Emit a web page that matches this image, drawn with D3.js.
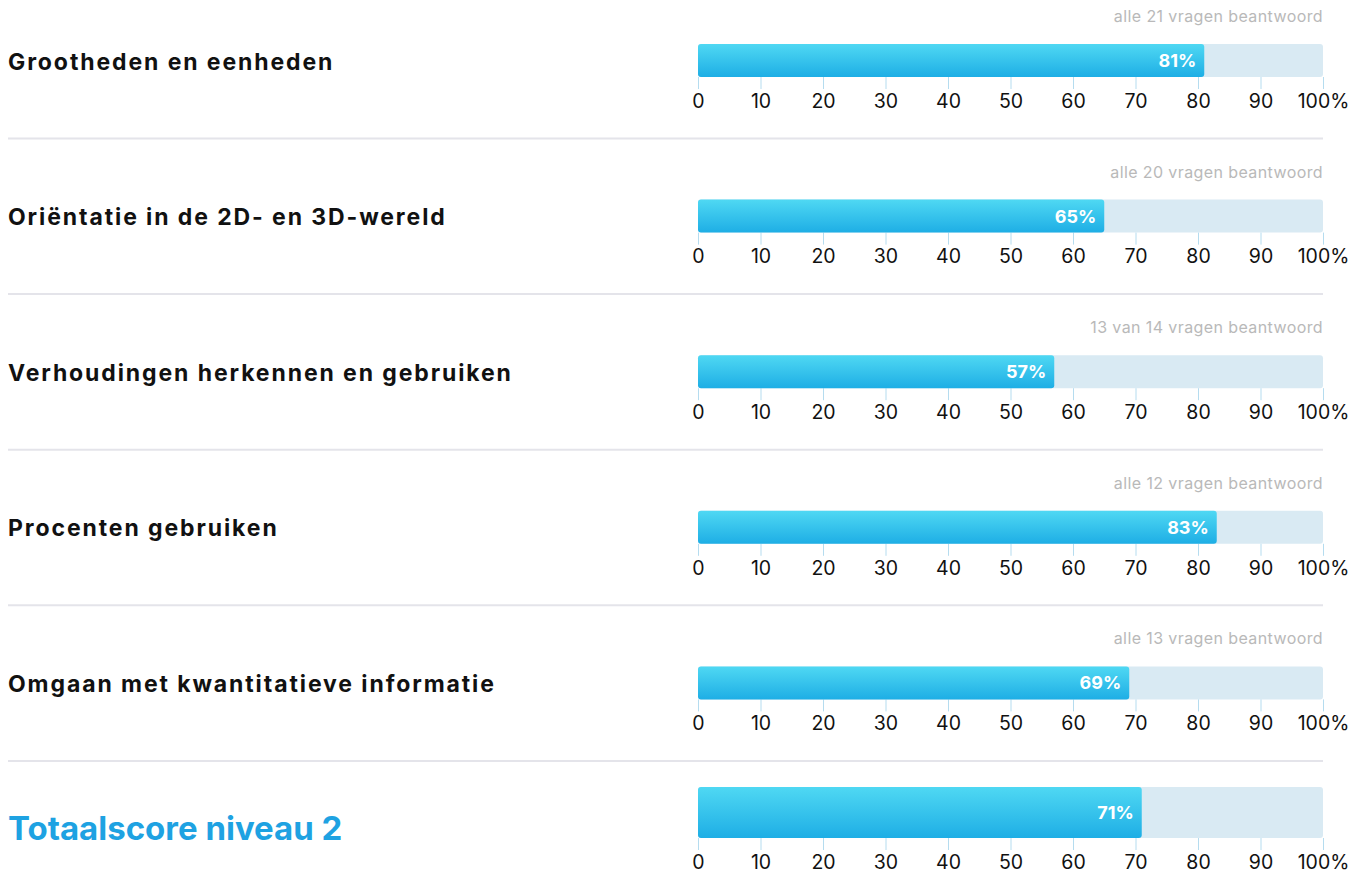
<!DOCTYPE html>
<html>
<head>
<meta charset="utf-8">
<title>Resultaten per domein</title>
<style>
  html, body { margin: 0; padding: 0; background: #fff; }
  svg { display: block; font-family: "Inter", "Noto Sans", sans-serif; }
</style>
<script src="https://d3js.org/d3.v7.min.js"></script>
</head>
<body>
<svg id="chart"></svg>
<script>
const categories = [
  "Grootheden en eenheden",
  "Oriëntatie in de 2D- en 3D-wereld",
  "Verhoudingen herkennen en gebruiken",
  "Procenten gebruiken",
  "Omgaan met kwantitatieve informatie"
];
const scores = [81, 65, 57, 83, 69];
const answered = [
  "alle 21 vragen beantwoord",
  "alle 20 vragen beantwoord",
  "13 van 14 vragen beantwoord",
  "alle 12 vragen beantwoord",
  "alle 13 vragen beantwoord"
];
const totalLabel = "Totaalscore niveau 2";
const totalScore = 71;
const tickValues = [0, 10, 20, 30, 40, 50, 60, 70, 80, 90, 100];

const width = 1363, height = 893;
const svg = d3.select("#chart").attr("width", width).attr("height", height);

const defs = svg.append("defs");
const grad = defs.append("linearGradient").attr("id", "barGrad")
  .attr("x1", 0).attr("y1", 0).attr("x2", 0).attr("y2", 1);
grad.append("stop").attr("offset", "0%").attr("stop-color", "#4fd8f3");
grad.append("stop").attr("offset", "100%").attr("stop-color", "#1eaee5");

const x = d3.scaleLinear().domain([0, 100]).range([698, 1323]);
const y = d3.scaleBand().domain(categories).range([0, 155.6 * categories.length]);

function drawRow(g, label, value, barY, barH, isTotal) {
  // achtergrond
  g.append("rect")
    .attr("x", x(0)).attr("y", barY)
    .attr("width", x(100) - x(0)).attr("height", barH)
    .attr("rx", 3).attr("fill", "#d9eaf3");
  // ticks
  const axis = d3.axisBottom(x).tickValues(tickValues)
    .tickSize(12).tickPadding(5)
    .tickFormat(d => d === 100 ? "100%" : d);
  const ax = g.append("g").attr("transform", "translate(0," + (barY + barH) + ")").call(axis);
  ax.select(".domain").remove();
  ax.selectAll(".tick line").attr("stroke", "#b5dcef");
  ax.selectAll(".tick text")
    .attr("font-size", "19.5px").attr("fill", "#111")
    .attr("font-family", "Inter, sans-serif");
  // balk
  g.append("rect")
    .attr("x", x(0)).attr("y", barY)
    .attr("width", x(value) - x(0)).attr("height", barH)
    .attr("rx", 3).attr("fill", "url(#barGrad)");
  g.append("text")
    .attr("x", x(value) - 8).attr("y", barY + barH / 2)
    .attr("dy", "0.36em").attr("text-anchor", "end")
    .attr("font-size", "18px").attr("font-weight", 700).attr("fill", "#fff")
    .text(value + "%");
  // label
  if (isTotal) {
    g.append("text")
      .attr("x", 8).attr("y", barY + barH + 2)
      .attr("font-size", "33px")
      .attr("font-weight", 700)
      .attr("fill", "#1ea2e2")
      .text(label);
  } else {
    g.append("text")
      .attr("x", 8).attr("y", barY + barH / 2 + 1)
      .attr("dy", "0.35em")
      .attr("font-size", "23px")
      .attr("letter-spacing", "1.9px")
      .attr("font-weight", 700)
      .attr("fill", "#111")
      .text(label);
  }
}

categories.forEach((c, i) => {
  const top = y(c);
  const g = svg.append("g");
  g.append("text")
    .attr("x", x(100)).attr("y", top + 22)
    .attr("text-anchor", "end")
    .attr("font-size", "16px").attr("letter-spacing", "0.4px").attr("fill", "#b9b9b9")
    .text(answered[i]);
  drawRow(g, c, scores[i], top + 44, 33, false);
  g.append("line")
    .attr("x1", 8).attr("x2", x(100))
    .attr("y1", top + 138.5).attr("y2", top + 138.5)
    .attr("stroke", "#e4e4ea").attr("stroke-width", 2);
});

const totalG = svg.append("g");
drawRow(totalG, totalLabel, totalScore, y.range()[1] + 9, 51, true);
</script>
</body>
</html>
